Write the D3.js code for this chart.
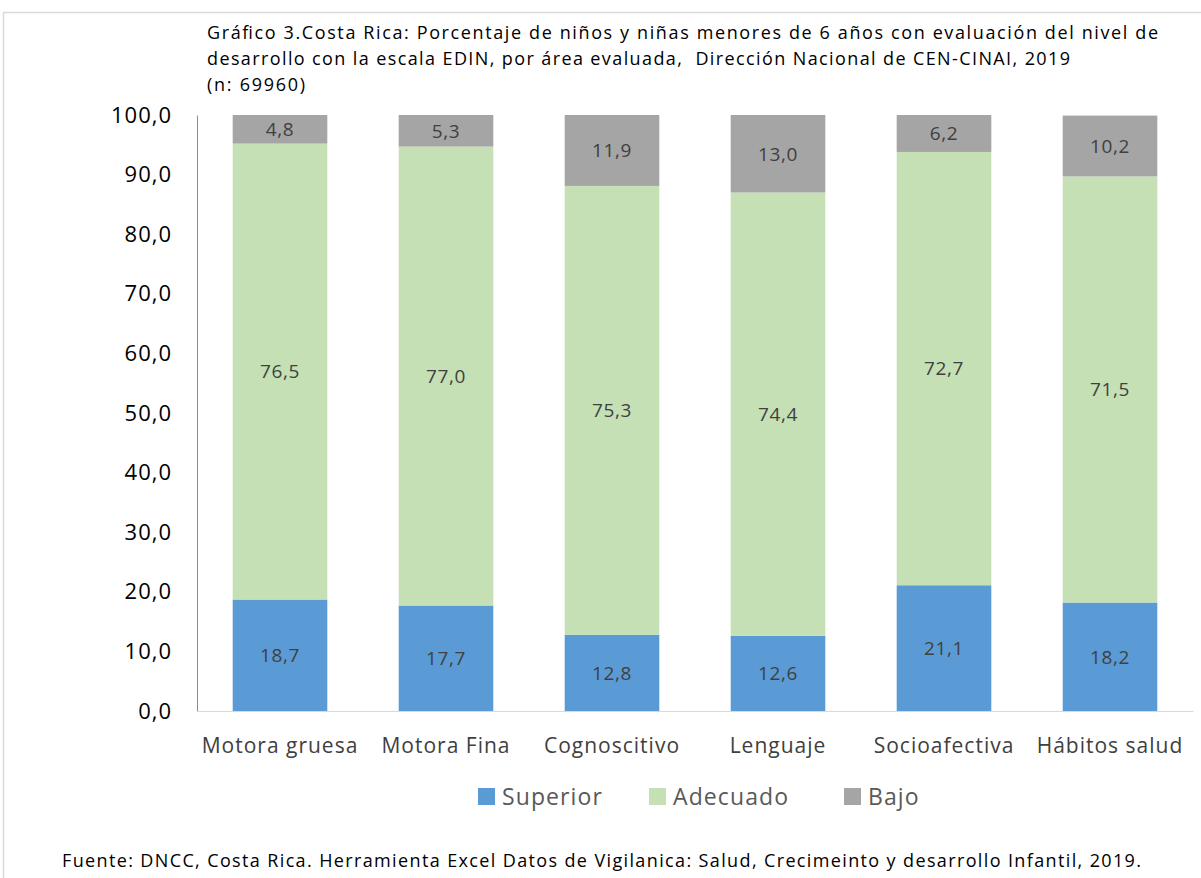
<!DOCTYPE html>
<html>
<head>
<meta charset="utf-8">
<script src="https://cdn.jsdelivr.net/npm/d3@7"></script>
<style>
  body { margin: 0; background: #fff; }
  text { font-family: "Open Sans", "Noto Sans", sans-serif; }
</style>
</head>
<body>
<div id="chart"></div>
<script>
const categories = ["Motora gruesa", "Motora Fina", "Cognoscitivo", "Lenguaje", "Socioafectiva", "Hábitos salud"];
const seriesNames = ["Superior", "Adecuado", "Bajo"];
const superior = [18.7, 17.7, 12.8, 12.6, 21.1, 18.2];
const adecuado = [76.5, 77.0, 75.3, 74.4, 72.7, 71.5];
const bajo = [4.8, 5.3, 11.9, 13.0, 6.2, 10.2];
const yTicks = [0, 10, 20, 30, 40, 50, 60, 70, 80, 90, 100];
const colors = ["#5B9BD5", "#C5E0B4", "#A5A5A5"];

const width = 1201, height = 878;
const margin = { left: 197, right: 8, top: 115, bottom: 167 };

const svg = d3.select("#chart").append("svg")
  .attr("width", width)
  .attr("height", height);

// frame of the pasted chart
svg.append("path")
  .attr("d", `M3.5,${height} V12.5 H${width}`)
  .attr("fill", "none")
  .attr("stroke", "#d9d9d9")
  .attr("stroke-width", 1.5);

// title (the original font runs wider, so stretch the spacing)
const title = ["Gráfico 3.Costa Rica: Porcentaje de niños y niñas menores de 6 años con evaluación del nivel de",
  "desarrollo con la escala EDIN, por área evaluada,  Dirección Nacional de CEN-CINAI, 2019",
  "(n: 69960)"];
const titleLen = [951, 863, 98];
svg.append("g").selectAll("text")
  .data(title)
  .enter().append("text")
  .attr("x", 207)
  .attr("y", (d, i) => 39 + i * 26)
  .attr("font-size", 18)
  .attr("fill", "#000")
  .attr("textLength", (d, i) => titleLen[i])
  .attr("lengthAdjust", "spacing")
  .style("white-space", "pre")
  .text(d => d);

const x = d3.scaleBand()
  .domain(categories)
  .range([margin.left, width - margin.right])
  .paddingInner(0.43)
  .paddingOuter(0.215);

const y = d3.scaleLinear()
  .domain([0, 100])
  .range([height - margin.bottom, margin.top]);

const rows = categories.map((c, i) => ({ cat: c, Superior: superior[i], Adecuado: adecuado[i], Bajo: bajo[i] }));
const stacked = d3.stack().keys(seriesNames)(rows);

const layers = svg.append("g").selectAll("g")
  .data(stacked)
  .enter().append("g")
  .attr("fill", (d, i) => colors[i]);

layers.selectAll("rect")
  .data(d => d)
  .enter().append("rect")
  .attr("x", d => x(d.data.cat))
  .attr("y", d => y(d[1]))
  .attr("width", x.bandwidth())
  .attr("height", d => y(d[0]) - y(d[1]));

const fmt = v => d3.format(".1f")(v).replace(".", ",");

layers.selectAll("text")
  .data(d => d.map(p => ({ p: p, key: d.key })))
  .enter().append("text")
  .attr("x", d => x(d.p.data.cat) + x.bandwidth() / 2)
  .attr("y", d => (y(d.p[0]) + y(d.p[1])) / 2)
  .attr("dy", "0.36em")
  .attr("text-anchor", "middle")
  .attr("font-size", 19)
  .attr("letter-spacing", 0.6)
  .attr("fill", "#404040")
  .text(d => fmt(d.p.data[d.key]));

// y axis
const yAxis = svg.append("g")
  .attr("transform", `translate(${margin.left},0)`)
  .call(d3.axisLeft(y).tickValues(yTicks).tickSize(0).tickPadding(25).tickFormat(fmt));
yAxis.select(".domain").attr("stroke", "#8c8c8c");
yAxis.selectAll("text")
  .attr("font-size", 22)
  .attr("letter-spacing", 1)
  .attr("fill", "#000")
  .style("font-family", "'Open Sans', sans-serif");

// x axis
const xAxis = svg.append("g")
  .attr("transform", `translate(0,${height - margin.bottom})`)
  .call(d3.axisBottom(x).tickSize(0).tickPadding(27));
xAxis.select(".domain").attr("stroke", "#d9d9d9");
xAxis.selectAll("text")
  .attr("font-size", 21)
  .attr("letter-spacing", 1)
  .attr("fill", "#404040")
  .style("font-family", "'Open Sans', sans-serif");

// legend
const legendX = [478, 649, 844];
const legend = svg.append("g").selectAll("g")
  .data(seriesNames)
  .enter().append("g")
  .attr("transform", (d, i) => `translate(${legendX[i]},788)`);
legend.append("rect")
  .attr("width", 17)
  .attr("height", 17)
  .attr("fill", (d, i) => colors[i]);
legend.append("text")
  .attr("x", 24)
  .attr("y", 9)
  .attr("dy", "0.36em")
  .attr("font-size", 23)
  .attr("letter-spacing", 1.1)
  .attr("fill", "#595959")
  .text(d => d);

// source
svg.append("text")
  .attr("x", 62)
  .attr("y", 867)
  .attr("font-size", 18)
  .attr("fill", "#000")
  .attr("textLength", 1079)
  .attr("lengthAdjust", "spacing")
  .text("Fuente: DNCC, Costa Rica. Herramienta Excel Datos de Vigilanica: Salud, Crecimeinto y desarrollo Infantil, 2019.");
</script>
</body>
</html>
